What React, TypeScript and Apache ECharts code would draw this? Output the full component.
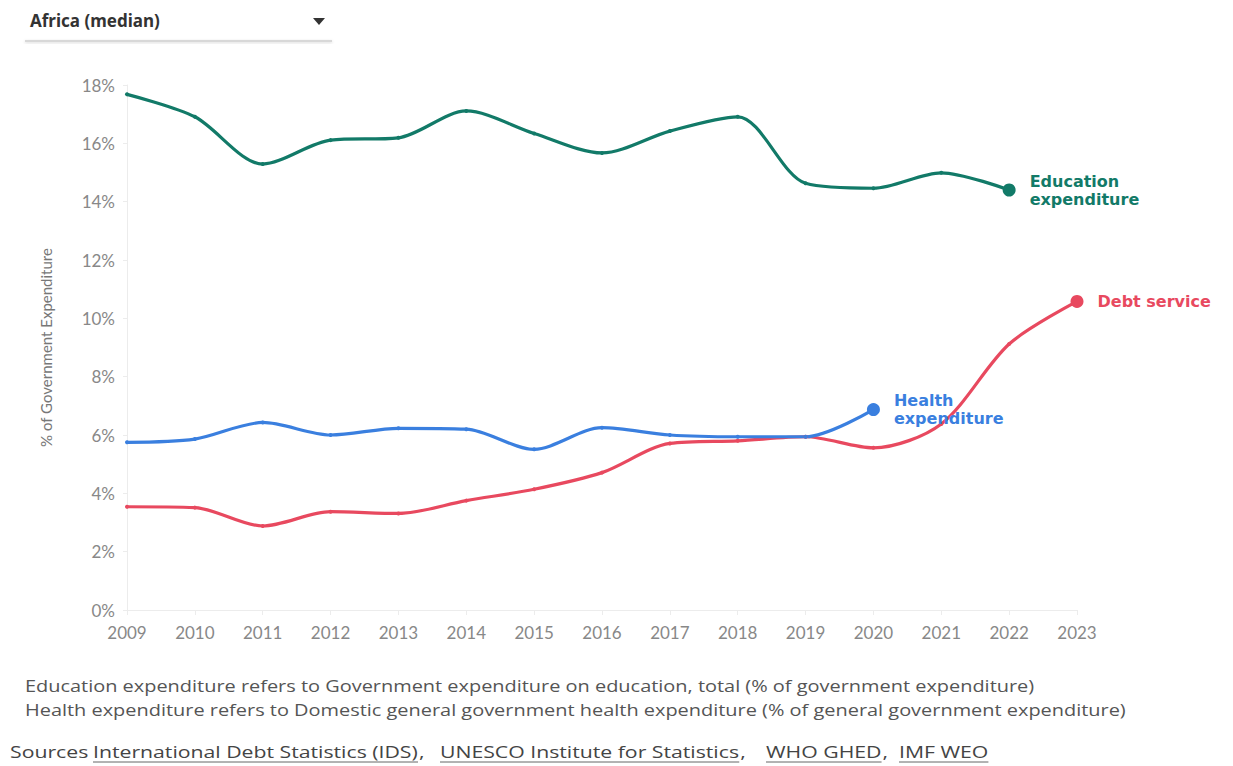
import React, { useEffect, useRef } from "react";
import * as echarts from "echarts";

const years = ["2009","2010","2011","2012","2013","2014","2015","2016","2017","2018","2019","2020","2021","2022","2023"];
const education = [17.68, 16.91, 15.29, 16.11, 16.19, 17.11, 16.34, 15.67, 16.42, 16.91, 14.63, 14.46, 14.99, 14.4, null];
const health = [5.75, 5.86, 6.43, 6.0, 6.23, 6.2, 5.51, 6.25, 6.0, 5.94, 5.94, 6.87, null, null, null];
const debt = [3.54, 3.51, 2.88, 3.37, 3.31, 3.75, 4.14, 4.71, 5.71, 5.8, 5.94, 5.56, 6.38, 9.12, 10.58];

const seriesNames = ["Debt service", "Education expenditure", "Health expenditure"];
const seriesLabels = ["Debt service", "Education\nexpenditure", "Health\nexpenditure"];
const seriesColors = ["#e8495f", "#127a68", "#3a7fdf"];
const seriesValues = [debt, education, health];

const yMin = 0;
const yMax = 18;
const yStep = 2;
const yAxisTitle = "% of Government Expenditure";
const selectorText = "Africa (median)";
const footnotes = [
  "Education expenditure refers to Government expenditure on education, total (% of government expenditure)",
  "Health expenditure refers to Domestic general government health expenditure (% of general government expenditure)",
];
const sourcesLead = "Sources";
const sourceLinks = ["International Debt Statistics (IDS)", "UNESCO Institute for Statistics", "WHO GHED", "IMF WEO"];

// layout constants (not data)
const LINK_X = [93, 440, 766, 899];
const FOOT_FONT = "'Open Sans'";
const AXIS_FONT = "Lato";
const LABEL_FONT = "DejaVu Sans";

function measure(text: string, size: number, family: string, weight = "normal") {
  const c = document.createElement("canvas").getContext("2d")!;
  c.font = `${weight} ${size}px ${family}`;
  return c.measureText(text).width;
}

export default function App() {
  const ref = useRef<HTMLDivElement>(null);
  useEffect(() => {
    if (!ref.current) return;
    const chart = echarts.init(ref.current, null, { renderer: "svg" });

    const footSize = 17;
    const footScale = 1010 / measure(footnotes[0], footSize, FOOT_FONT);
    const srcSize = 16;
    const srcScale = 325 / measure(sourceLinks[0], srcSize, FOOT_FONT);

    const graphics: any[] = [];
    graphics.push({
      type: "text",
      x: 30,
      y: 20,
      style: { text: selectorText, font: `bold 17px 'Noto Sans'`, fill: "#333", align: "left", verticalAlign: "middle" },
    });
    graphics.push({
      type: "polygon",
      shape: { points: [[313, 18], [325, 18], [319, 25]] },
      style: { fill: "#333" },
    });
    graphics.push({
      type: "rect",
      shape: { x: 25, y: 40, width: 307, height: 2 },
      style: { fill: "#d8d8d8", shadowBlur: 3, shadowColor: "rgba(0,0,0,0.15)", shadowOffsetY: 1 },
    });
    footnotes.forEach((t, i) => {
      graphics.push({
        type: "text",
        x: 25,
        y: 685 + i * 24,
        scaleX: footScale,
        style: { text: t, font: `${footSize}px ${FOOT_FONT}`, fill: "#555", align: "left", verticalAlign: "middle" },
      });
    });
    const sy = 752;
    graphics.push({
      type: "text",
      x: 10,
      y: sy,
      scaleX: srcScale,
      style: { text: sourcesLead, font: `${srcSize}px ${FOOT_FONT}`, fill: "#444", align: "left", verticalAlign: "middle" },
    });
    sourceLinks.forEach((t, i) => {
      const w = measure(t, srcSize, FOOT_FONT) * srcScale;
      const x0 = LINK_X[i];
      graphics.push({
        type: "text",
        x: x0,
        y: sy,
        scaleX: srcScale,
        style: { text: t, font: `${srcSize}px ${FOOT_FONT}`, fill: "#444", align: "left", verticalAlign: "middle" },
      });
      graphics.push({
        type: "line",
        shape: { x1: x0, y1: sy + 10, x2: x0 + w, y2: sy + 10 },
        style: { stroke: "#666", lineWidth: 1 },
      });
      if (i < sourceLinks.length - 1) {
        graphics.push({
          type: "text",
          x: x0 + w + 1,
          y: sy,
          scaleX: srcScale,
          style: { text: ",", font: `${srcSize}px ${FOOT_FONT}`, fill: "#444", align: "left", verticalAlign: "middle" },
        });
      }
    });

    const series = seriesValues.map((vals, si) => {
      let last = -1;
      vals.forEach((v, i) => {
        if (v !== null) last = i;
      });
      const data = vals.map((v, i) =>
        i === last
          ? {
              value: v,
              symbolSize: 13,
              label: {
                show: true,
                position: "right",
                distance: 14,
                formatter: seriesLabels[si],
                color: seriesColors[si],
                fontWeight: "bold",
                fontSize: 16,
                lineHeight: 18,
                fontFamily: LABEL_FONT,
              },
            }
          : v
      );
      return {
        name: seriesNames[si],
        type: "line",
        data,
        smooth: 0.3,
        symbol: "circle",
        symbolSize: 4,
        showSymbol: true,
        lineStyle: { color: seriesColors[si], width: 3.2 },
        itemStyle: { color: seriesColors[si] },
        connectNulls: false,
      };
    });

    chart.setOption({
      animation: false,
      backgroundColor: "#fff",
      grid: { left: 127, right: 156, top: 85, bottom: 156, containLabel: false },
      xAxis: {
        type: "category",
        data: years,
        boundaryGap: false,
        axisLine: { show: true, lineStyle: { color: "#ececec" } },
        axisTick: { show: true, length: 5, lineStyle: { color: "#ececec" } },
        axisLabel: { color: "#888", fontSize: 17, fontFamily: AXIS_FONT, margin: 14 },
        splitLine: { show: false },
      },
      yAxis: {
        type: "value",
        min: yMin,
        max: yMax,
        interval: yStep,
        name: yAxisTitle,
        nameLocation: "middle",
        nameGap: 74,
        nameTextStyle: { color: "#777", fontSize: 15, fontFamily: AXIS_FONT },
        axisLine: { show: true, lineStyle: { color: "#ececec" } },
        axisTick: { show: true, length: 4, lineStyle: { color: "#ececec" } },
        axisLabel: { color: "#888", fontSize: 17, fontFamily: AXIS_FONT, margin: 12, formatter: "{value}%" },
        splitLine: { show: false },
      },
      series,
      graphic: graphics,
    });
    return () => chart.dispose();
  }, []);
  return <div ref={ref} style={{ position: "absolute", left: 0, top: 0, width: 1233, height: 766 }} />;
}
